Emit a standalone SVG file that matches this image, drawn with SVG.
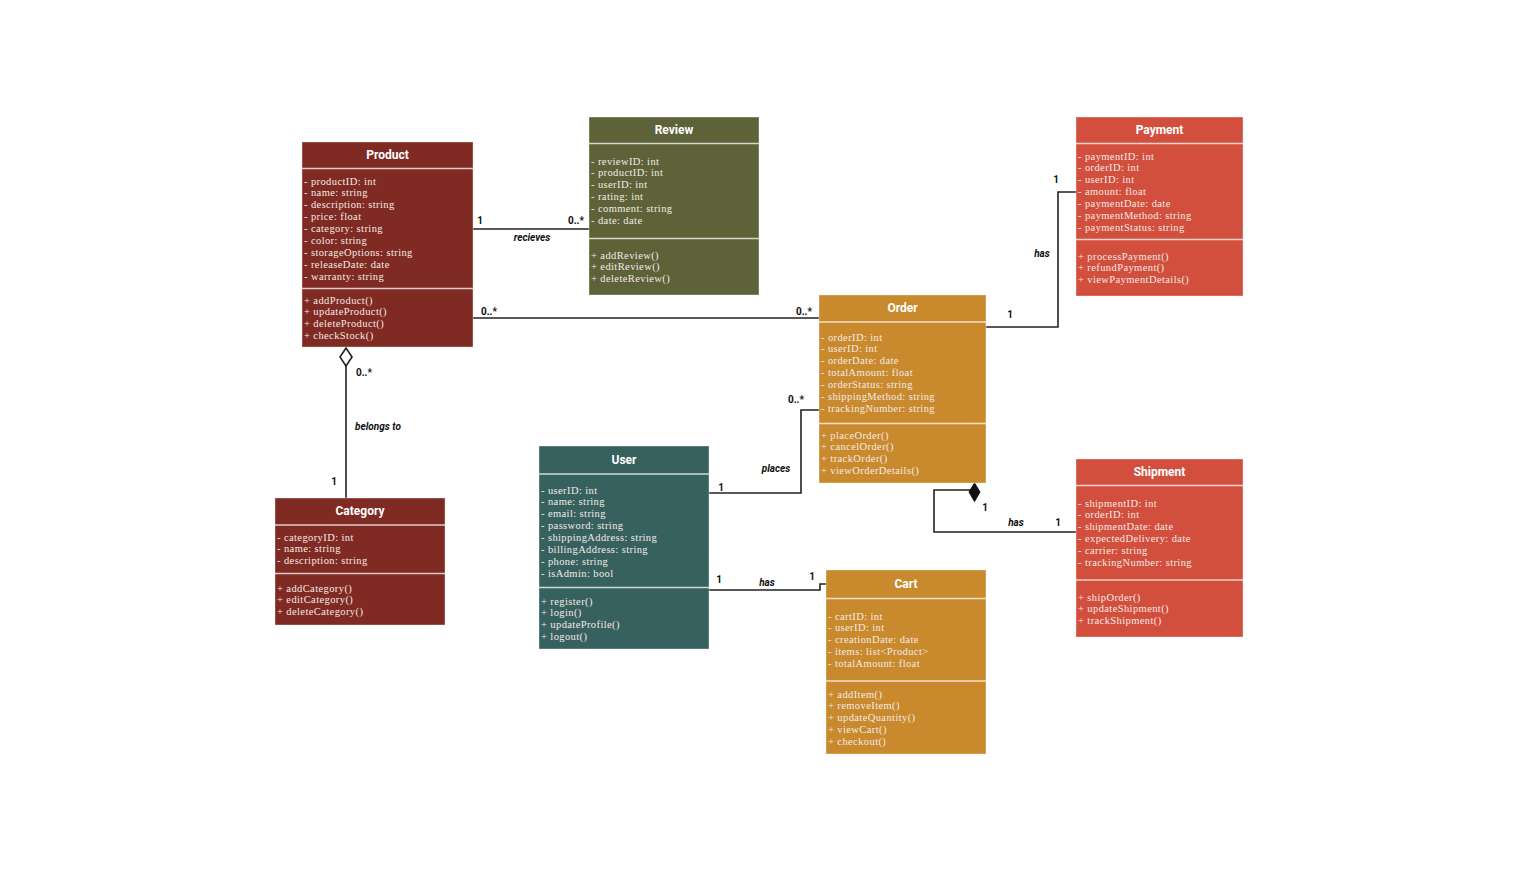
<svg xmlns="http://www.w3.org/2000/svg" width="1516" height="872" viewBox="0 0 1516 872">
<defs>
<style>
.box{stroke:#ffffff;stroke-opacity:0.35;stroke-width:1}
.sep{stroke:#ffffff;stroke-opacity:0.75;stroke-width:1.6}
.hdr{font-family:Roboto,"Liberation Sans",sans-serif;font-weight:bold;font-size:12px;fill:#ffffff;text-anchor:middle}
.att{font-family:"Liberation Serif","DejaVu Serif",serif;font-size:10.5px;fill:#f4e9e6;letter-spacing:0.4px}
.edge{fill:none;stroke:#222222;stroke-width:1.6}
.lbl{font-family:Roboto,"Liberation Sans",sans-serif;font-weight:bold;font-size:10px;fill:#111111;text-anchor:middle}
.role{font-family:Roboto,"Liberation Sans",sans-serif;font-weight:bold;font-style:italic;font-size:10px;fill:#111111;text-anchor:middle}
</style>
</defs>
<rect width="1516" height="872" fill="#ffffff"/>

<g id="connectors">
<path class="edge" d="M473 229 H589"/>
<path class="edge" d="M473 318 H819"/>
<path class="edge" d="M346 366 V498"/>
<polygon points="346,348 352,357 346,366 340,357" fill="#ffffff" stroke="#222222" stroke-width="1.6"/>
<path class="edge" d="M986 327 H1058 V192 H1076"/>
<path class="edge" d="M709 493 H801 V410 H819"/>
<path class="edge" d="M709 590 H820 V584 H826"/>
<path class="edge" d="M1076 532 H934 V490 H972"/>
<polygon points="974.5,483 980,492 974.5,501.5 969,492" fill="#111111" stroke="#111111" stroke-width="1"/>
<text class="lbl" x="480" y="223.5">1</text>
<text class="lbl" x="576" y="223.5">0..*</text>
<text class="role" x="532" y="241">recieves</text>
<text class="lbl" x="489" y="314.5">0..*</text>
<text class="lbl" x="804" y="314.5">0..*</text>
<text class="lbl" x="364" y="375.5">0..*</text>
<text class="role" x="378" y="429.5">belongs to</text>
<text class="lbl" x="334" y="484.5">1</text>
<text class="lbl" x="1010" y="317.5">1</text>
<text class="role" x="1042" y="256.5">has</text>
<text class="lbl" x="1056" y="182.5">1</text>
<text class="lbl" x="721" y="490.5">1</text>
<text class="role" x="776" y="471.5">places</text>
<text class="lbl" x="796" y="402.5">0..*</text>
<text class="lbl" x="719" y="582.5">1</text>
<text class="role" x="767" y="585.5">has</text>
<text class="lbl" x="812" y="579.5">1</text>
<text class="lbl" x="985" y="510.5">1</text>
<text class="role" x="1016" y="525.5">has</text>
<text class="lbl" x="1058" y="525.5">1</text>
</g>

<g id="product">
<rect class="box" x="302" y="142" width="171" height="205" fill="#7F2A22"/>
<line class="sep" x1="302" y1="168.5" x2="473" y2="168.5"/>
<line class="sep" x1="302" y1="288.5" x2="473" y2="288.5"/>
<text class="hdr" x="387.5" y="159.3">Product</text>
<text class="att" y="184.5">
<tspan x="304">- productID: int</tspan>
<tspan x="304" dy="11.9">- name: string</tspan>
<tspan x="304" dy="11.9">- description: string</tspan>
<tspan x="304" dy="11.9">- price: float</tspan>
<tspan x="304" dy="11.9">- category: string</tspan>
<tspan x="304" dy="11.9">- color: string</tspan>
<tspan x="304" dy="11.9">- storageOptions: string</tspan>
<tspan x="304" dy="11.9">- releaseDate: date</tspan>
<tspan x="304" dy="11.9">- warranty: string</tspan>
</text>
<text class="att" y="303.5">
<tspan x="304">+ addProduct()</tspan>
<tspan x="304" dy="11.9">+ updateProduct()</tspan>
<tspan x="304" dy="11.9">+ deleteProduct()</tspan>
<tspan x="304" dy="11.9">+ checkStock()</tspan>
</text>
</g>

<g id="review">
<rect class="box" x="589" y="117" width="170" height="178" fill="#5D6238"/>
<line class="sep" x1="589" y1="143.5" x2="759" y2="143.5"/>
<line class="sep" x1="589" y1="238.5" x2="759" y2="238.5"/>
<text class="hdr" x="674" y="134.3">Review</text>
<text class="att" y="164.5">
<tspan x="591">- reviewID: int</tspan>
<tspan x="591" dy="11.9">- productID: int</tspan>
<tspan x="591" dy="11.9">- userID: int</tspan>
<tspan x="591" dy="11.9">- rating: int</tspan>
<tspan x="591" dy="11.9">- comment: string</tspan>
<tspan x="591" dy="11.9">- date: date</tspan>
</text>
<text class="att" y="258.5">
<tspan x="591">+ addReview()</tspan>
<tspan x="591" dy="11.9">+ editReview()</tspan>
<tspan x="591" dy="11.9">+ deleteReview()</tspan>
</text>
</g>

<g id="payment">
<rect class="box" x="1076" y="117" width="167" height="179" fill="#D24F3D"/>
<line class="sep" x1="1076" y1="143.5" x2="1243" y2="143.5"/>
<line class="sep" x1="1076" y1="239.5" x2="1243" y2="239.5"/>
<text class="hdr" x="1159.5" y="134.3">Payment</text>
<text class="att" y="159.5">
<tspan x="1078">- paymentID: int</tspan>
<tspan x="1078" dy="11.9">- orderID: int</tspan>
<tspan x="1078" dy="11.9">- userID: int</tspan>
<tspan x="1078" dy="11.9">- amount: float</tspan>
<tspan x="1078" dy="11.9">- paymentDate: date</tspan>
<tspan x="1078" dy="11.9">- paymentMethod: string</tspan>
<tspan x="1078" dy="11.9">- paymentStatus: string</tspan>
</text>
<text class="att" y="259.5">
<tspan x="1078">+ processPayment()</tspan>
<tspan x="1078" dy="11.9">+ refundPayment()</tspan>
<tspan x="1078" dy="11.9">+ viewPaymentDetails()</tspan>
</text>
</g>

<g id="order">
<rect class="box" x="819" y="295" width="167" height="188" fill="#C98A2D"/>
<line class="sep" x1="819" y1="322" x2="986" y2="322"/>
<line class="sep" x1="819" y1="423.5" x2="986" y2="423.5"/>
<text class="hdr" x="902.5" y="312.3">Order</text>
<text class="att" y="340.5">
<tspan x="821">- orderID: int</tspan>
<tspan x="821" dy="11.9">- userID: int</tspan>
<tspan x="821" dy="11.9">- orderDate: date</tspan>
<tspan x="821" dy="11.9">- totalAmount: float</tspan>
<tspan x="821" dy="11.9">- orderStatus: string</tspan>
<tspan x="821" dy="11.9">- shippingMethod: string</tspan>
<tspan x="821" dy="11.9">- trackingNumber: string</tspan>
</text>
<text class="att" y="438.5">
<tspan x="821">+ placeOrder()</tspan>
<tspan x="821" dy="11.9">+ cancelOrder()</tspan>
<tspan x="821" dy="11.9">+ trackOrder()</tspan>
<tspan x="821" dy="11.9">+ viewOrderDetails()</tspan>
</text>
</g>

<g id="user">
<rect class="box" x="539" y="446" width="170" height="203" fill="#37615F"/>
<line class="sep" x1="539" y1="474" x2="709" y2="474"/>
<line class="sep" x1="539" y1="587.5" x2="709" y2="587.5"/>
<text class="hdr" x="624" y="464.3">User</text>
<text class="att" y="493.5">
<tspan x="541">- userID: int</tspan>
<tspan x="541" dy="11.9">- name: string</tspan>
<tspan x="541" dy="11.9">- email: string</tspan>
<tspan x="541" dy="11.9">- password: string</tspan>
<tspan x="541" dy="11.9">- shippingAddress: string</tspan>
<tspan x="541" dy="11.9">- billingAddress: string</tspan>
<tspan x="541" dy="11.9">- phone: string</tspan>
<tspan x="541" dy="11.9">- isAdmin: bool</tspan>
</text>
<text class="att" y="604.5">
<tspan x="541">+ register()</tspan>
<tspan x="541" dy="11.9">+ login()</tspan>
<tspan x="541" dy="11.9">+ updateProfile()</tspan>
<tspan x="541" dy="11.9">+ logout()</tspan>
</text>
</g>

<g id="category">
<rect class="box" x="275" y="498" width="170" height="127" fill="#7F2A22"/>
<line class="sep" x1="275" y1="525" x2="445" y2="525"/>
<line class="sep" x1="275" y1="573.5" x2="445" y2="573.5"/>
<text class="hdr" x="360" y="515.3">Category</text>
<text class="att" y="540.5">
<tspan x="277">- categoryID: int</tspan>
<tspan x="277" dy="11.9">- name: string</tspan>
<tspan x="277" dy="11.9">- description: string</tspan>
</text>
<text class="att" y="591.5">
<tspan x="277">+ addCategory()</tspan>
<tspan x="277" dy="11.9">+ editCategory()</tspan>
<tspan x="277" dy="11.9">+ deleteCategory()</tspan>
</text>
</g>

<g id="cart">
<rect class="box" x="826" y="570" width="160" height="184" fill="#C98A2D"/>
<line class="sep" x1="826" y1="598.5" x2="986" y2="598.5"/>
<line class="sep" x1="826" y1="681" x2="986" y2="681"/>
<text class="hdr" x="906" y="588.3">Cart</text>
<text class="att" y="619.5">
<tspan x="828">- cartID: int</tspan>
<tspan x="828" dy="11.9">- userID: int</tspan>
<tspan x="828" dy="11.9">- creationDate: date</tspan>
<tspan x="828" dy="11.9">- items: list&lt;Product&gt;</tspan>
<tspan x="828" dy="11.9">- totalAmount: float</tspan>
</text>
<text class="att" y="697.5">
<tspan x="828">+ addItem()</tspan>
<tspan x="828" dy="11.9">+ removeItem()</tspan>
<tspan x="828" dy="11.9">+ updateQuantity()</tspan>
<tspan x="828" dy="11.9">+ viewCart()</tspan>
<tspan x="828" dy="11.9">+ checkout()</tspan>
</text>
</g>

<g id="shipment">
<rect class="box" x="1076" y="459" width="167" height="178" fill="#D24F3D"/>
<line class="sep" x1="1076" y1="485.5" x2="1243" y2="485.5"/>
<line class="sep" x1="1076" y1="580" x2="1243" y2="580"/>
<text class="hdr" x="1159.5" y="476.3">Shipment</text>
<text class="att" y="506.5">
<tspan x="1078">- shipmentID: int</tspan>
<tspan x="1078" dy="11.9">- orderID: int</tspan>
<tspan x="1078" dy="11.9">- shipmentDate: date</tspan>
<tspan x="1078" dy="11.9">- expectedDelivery: date</tspan>
<tspan x="1078" dy="11.9">- carrier: string</tspan>
<tspan x="1078" dy="11.9">- trackingNumber: string</tspan>
</text>
<text class="att" y="600.5">
<tspan x="1078">+ shipOrder()</tspan>
<tspan x="1078" dy="11.9">+ updateShipment()</tspan>
<tspan x="1078" dy="11.9">+ trackShipment()</tspan>
</text>
</g>
</svg>
